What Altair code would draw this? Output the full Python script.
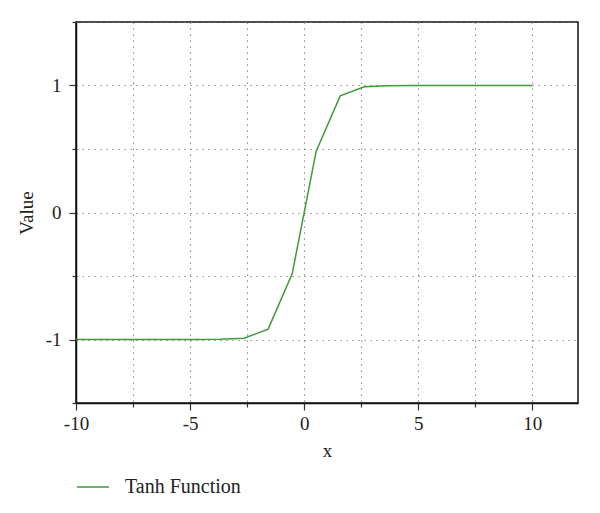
import altair as alt
import pandas as pd

x_vals = [-10.0, -8.947, -7.895, -6.842, -5.789, -4.737, -3.684, -2.632, -1.579, -0.526,
          0.526, 1.579, 2.632, 3.684, 4.737, 5.789, 6.842, 7.895, 8.947, 10.0]
y_vals = [-1.0, -1.0, -1.0, -1.0, -0.99998, -0.99985, -0.99874, -0.98971, -0.91852, -0.48279,
          0.48279, 0.91852, 0.98971, 0.99874, 0.99985, 0.99998, 1.0, 1.0, 1.0, 1.0]
series = "Tanh Function"
x_ticks = [-10, -7.5, -5, -2.5, 0, 2.5, 5, 7.5, 10]
y_ticks = [-1.5, -1, -0.5, 0, 0.5, 1, 1.5]

df = pd.DataFrame({"x": x_vals, "Value": y_vals, "series": [series] * len(x_vals)})

FONT = "Liberation Serif"
green = "#3f9a3a"

chart = alt.Chart(df).mark_line(strokeWidth=1.5).encode(
    x=alt.X("x:Q",
            scale=alt.Scale(domain=[-10, 12], nice=False, zero=False),
            axis=alt.Axis(values=x_ticks, title="x", labelFlush=False,
                          labelExpr="datum.value % 5 === 0 ? toString(datum.value) : ''",
                          tickSize={"condition": {"test": "datum.value % 5 === 0", "value": 7}, "value": 4},
                          labelPadding=4, titlePadding=8)),
    y=alt.Y("Value:Q",
            scale=alt.Scale(domain=[-1.5, 1.5], nice=False, zero=False),
            axis=alt.Axis(values=y_ticks, title="Value", labelFlush=False,
                          labelExpr="(datum.value % 1 === 0 && abs(datum.value) < 1.5) ? toString(datum.value) : ''",
                          tickSize={"condition": {"test": "datum.value % 1 === 0", "value": 7}, "value": 4},
                          labelPadding=8, titlePadding=9)),
    color=alt.Color("series:N",
                    scale=alt.Scale(domain=[series], range=[green]),
                    legend=alt.Legend(title=None, orient="none", legendX=0, legendY=448,
                                      symbolType="stroke", symbolSize=1024,
                                      symbolStrokeWidth=1.5, labelOffset=15,
                                      labelFont=FONT, labelFontSize=20,
                                      labelColor="#222", padding=0)),
).properties(
    width=502, height=381,
    autosize=alt.AutoSizeParams(type="none"),
    padding={"left": 68, "top": 14, "right": 14, "bottom": 100},
).configure_view(
    stroke="#111", strokeWidth=1.5
).configure_axis(
    labelFont=FONT, titleFont=FONT, labelFontSize=19, titleFontSize=19,
    labelColor="#222", titleColor="#222", titleFontWeight="normal",
    domainColor="#111", domainWidth=1.5, tickColor="#333", tickWidth=1.2,
    grid=True, gridColor="#777", gridDash=[1.2, 4.8], gridWidth=1.1,
)

chart.save("out.html", embed_options={"renderer": "svg", "actions": False})
